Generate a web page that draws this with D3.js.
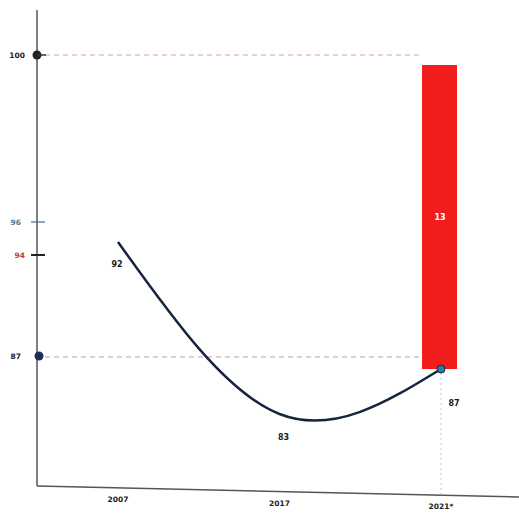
<!DOCTYPE html>
<html><head><meta charset="utf-8">
<script src="https://cdn.jsdelivr.net/npm/d3@7"></script>
<style>body{margin:0;background:#fff}svg{display:block}</style>
</head><body>
<svg id="c" width="519" height="515"></svg>
<script>
const years = ["2007", "2017", "2021*"];
const values = [92, 83, 87];
const barRange = [87, 100];
const barLabel = "13";
const axisTicks = [100, 96, 94, 87];
const axisTickColors = ["#222", "#5a7590", "#c0392b", "#222"];

const svg = d3.select("#c");
const x = d3.scalePoint().domain(years).range([118, 441]);
const y = d3.scaleLinear().domain([83, 87, 92, 100]).range([414, 369, 242, 65]);
const yAxis = d3.scaleLinear().domain([87, 94, 96, 100]).range([356, 255, 222, 55]);
const axisX = 37, baseY = 486;

// guide lines
svg.append("line").attr("x1", axisX + 8).attr("x2", x("2021*") - 19)
  .attr("y1", yAxis(100)).attr("y2", yAxis(100))
  .attr("stroke", "#d9a0a0").attr("stroke-width", 1).attr("stroke-dasharray", "5,4");
svg.append("line").attr("x1", axisX + 8).attr("x2", x("2021*") - 10)
  .attr("y1", yAxis(87) + 1).attr("y2", yAxis(87) + 1)
  .attr("stroke", "#b9a3a3").attr("stroke-width", 1).attr("stroke-dasharray", "5,4");
svg.append("line").attr("x1", x("2021*")).attr("x2", x("2021*"))
  .attr("y1", y(87) + 4).attr("y2", baseY + 8)
  .attr("stroke", "#c8c8c8").attr("stroke-width", 1).attr("stroke-dasharray", "2,3");

// bar
svg.append("rect").attr("x", x("2021*") - 19).attr("width", 35)
  .attr("y", y(barRange[1])).attr("height", y(barRange[0]) - y(barRange[1]))
  .attr("fill", "#f21d1d");
svg.append("text").attr("x", x("2021*") - 1).attr("y", (y(barRange[0]) + y(barRange[1])) / 2 + 3)
  .attr("text-anchor", "middle").attr("fill", "#fff").attr("font-size", 8)
  .attr("font-weight", "bold").attr("font-family", "DejaVu Sans").text(barLabel);

// axes
svg.append("line").attr("x1", axisX).attr("x2", axisX).attr("y1", 10).attr("y2", baseY)
  .attr("stroke", "#555").attr("stroke-width", 1.5);
svg.append("line").attr("x1", axisX).attr("x2", 519).attr("y1", baseY).attr("y2", baseY + 11)
  .attr("stroke", "#555").attr("stroke-width", 1.5);

// axis ticks
axisTicks.forEach((v, i) => {
  const yy = yAxis(v);
  if (v === 100 || v === 87) {
    svg.append("circle").attr("cx", axisX + (v === 87 ? 2 : 0)).attr("cy", yy).attr("r", 4.5)
      .attr("fill", v === 87 ? "#1c2f55" : "#222");
    if (v === 100) svg.append("line").attr("x1", axisX).attr("x2", axisX + 9).attr("y1", yy).attr("y2", yy)
      .attr("stroke", "#333").attr("stroke-width", 1.5);
  } else {
    svg.append("line").attr("x1", axisX - 6).attr("x2", axisX + 8).attr("y1", yy).attr("y2", yy)
      .attr("stroke", v === 94 ? "#222" : "#5a7590").attr("stroke-width", v === 94 ? 2 : 1.3);
  }
  svg.append("text").attr("x", v === 100 || v === 94 ? 25 : 21).attr("y", yy + 3)
    .attr("text-anchor", "end").attr("font-size", 7.5).attr("font-weight", "bold")
    .attr("font-family", "DejaVu Sans").attr("fill", axisTickColors[i]).text(v);
});

// line
const pts = years.map((d, i) => [x(d), y(values[i])]);
svg.append("path").attr("d", d3.line().curve(d3.curveNatural)(pts))
  .attr("fill", "none").attr("stroke", "#17243f").attr("stroke-width", 2.5);
svg.append("circle").attr("cx", pts[2][0]).attr("cy", pts[2][1]).attr("r", 4)
  .attr("fill", "#2b7d9e").attr("stroke", "#17243f").attr("stroke-width", 1);

// data labels
const labelOffsets = [[-1, 25], [4, 26], [13, 37]];
values.forEach((v, i) => {
  svg.append("text").attr("x", pts[i][0] + labelOffsets[i][0]).attr("y", pts[i][1] + labelOffsets[i][1])
    .attr("text-anchor", "middle").attr("font-size", 8).attr("font-weight", "bold")
    .attr("font-family", "DejaVu Sans").attr("fill", "#1a1a1a").text(v);
});

// x labels
years.forEach(d => {
  const xx = x(d);
  svg.append("text").attr("x", xx).attr("y", baseY + 11 * (xx - axisX) / 482 + 14)
    .attr("text-anchor", "middle").attr("font-size", 7.5).attr("font-weight", "bold")
    .attr("font-family", "DejaVu Sans").attr("fill", "#222").text(d);
});
</script>
</body></html>
